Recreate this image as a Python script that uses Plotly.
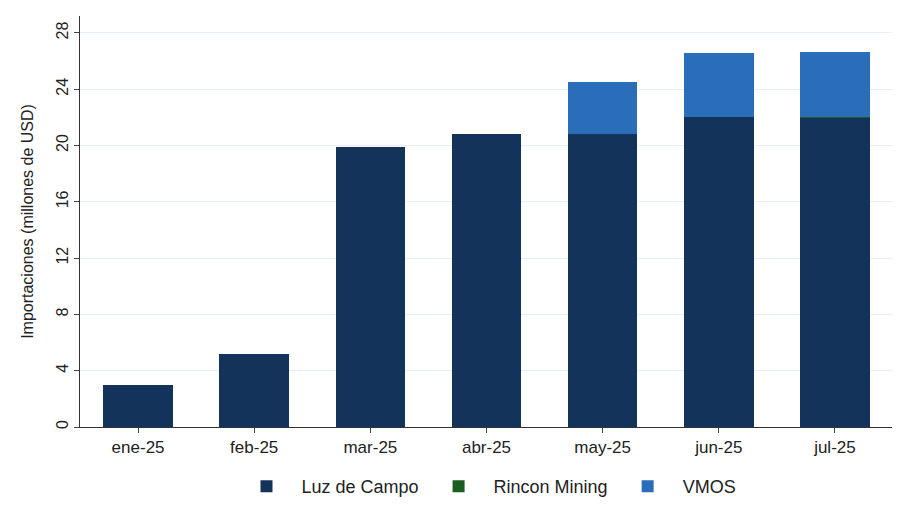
import plotly.graph_objects as go

months = ["ene-25", "feb-25", "mar-25", "abr-25", "may-25", "jun-25", "jul-25"]
luz = [3.0, 5.2, 19.9, 20.8, 20.8, 22.0, 22.0]
rincon = [0, 0, 0, 0, 0, 0, 0.05]
vmos = [0, 0, 0, 0, 3.7, 4.6, 4.6]
yticks = [0, 4, 8, 12, 16, 20, 24, 28]

fig = go.Figure()
fig.add_bar(x=months, y=luz, name="Luz de Campo", marker_color="#14335a", marker_line_width=0)
fig.add_bar(x=months, y=rincon, name="Rincon Mining", marker_color="#1b5e20", marker_line_width=0)
fig.add_bar(x=months, y=vmos, name="VMOS", marker_color="#2a6db8", marker_line_width=0)

fig.update_layout(
    barmode="stack", bargap=0.4, width=900, height=505,
    paper_bgcolor="white", plot_bgcolor="white",
    margin=dict(l=72, r=15, t=8, b=75),
    font=dict(family="Liberation Sans, Arial", size=16, color="#222"),
    legend=dict(orientation="h", x=0.5, xanchor="center", y=-0.1, yanchor="top",
                font=dict(size=18), traceorder="normal", itemwidth=60),
)
fig.update_yaxes(range=[0, 29.2], tickvals=yticks, tickangle=-90, showgrid=True,
                 gridcolor="#e8eef2", showline=True, linecolor="#333", ticks="outside",
                 ticklen=5, tickfont=dict(size=16),
                 title=dict(text="Importaciones (millones de USD)", font=dict(size=16)),
                 zeroline=False)
fig.update_xaxes(showline=True, linecolor="#333", ticks="outside", ticklen=5,
                 tickfont=dict(size=17))
fig.write_html("out.html")
